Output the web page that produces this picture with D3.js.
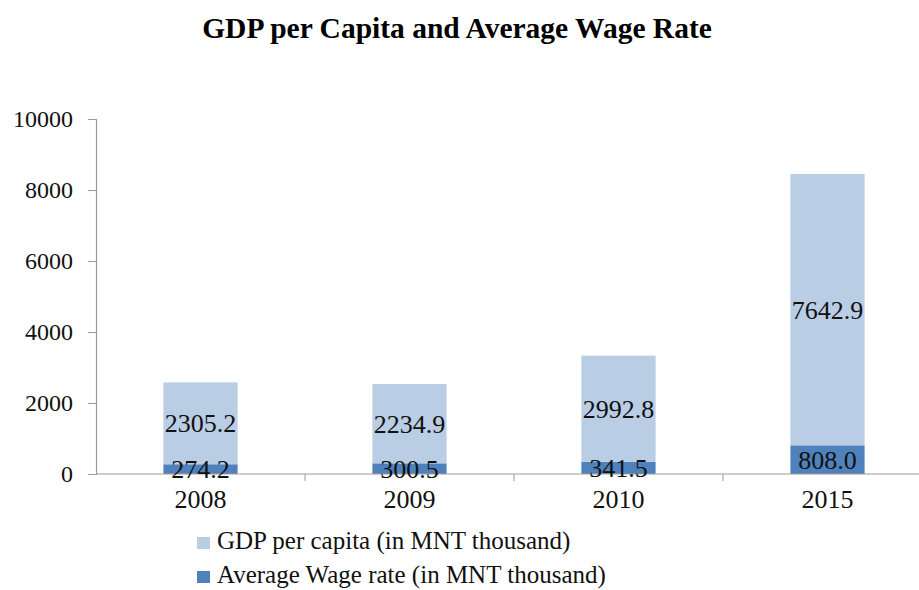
<!DOCTYPE html>
<html>
<head>
<meta charset="utf-8">
<script src="https://cdn.jsdelivr.net/npm/d3@7"></script>
</head>
<body>
<svg id="chart" width="919" height="590" font-family="Liberation Serif"></svg>
<script>
// Data (MNT thousand)
const years = ["2008", "2009", "2010", "2015"];
const wageRate = [274.2, 300.5, 341.5, 808.0];
const gdpPerCapita = [2305.2, 2234.9, 2992.8, 7642.9];
const yTicks = [0, 2000, 4000, 6000, 8000, 10000];
const seriesNames = ["GDP per capita (in MNT thousand)", "Average Wage rate (in MNT thousand)"];
const seriesColors = ["#b9cde5", "#4f81bd"];

const FONT = "'Liberation Serif'";
d3.select("body").style("margin", "0");
const svg = d3.select("#chart").style("display", "block");
const axisColor = "#a39797";

const x = d3.scaleBand().domain(years).range([96, 932]).padding(0);
const y = d3.scaleLinear().domain([0, 10000]).range([474, 119]);
const barW = x.bandwidth() * 0.355;

// Title
svg.append("text")
  .attr("x", 457).attr("y", 38)
  .attr("text-anchor", "middle")
  .style("font-family", FONT)
  .style("font-size", "29.5px").style("font-weight", "bold")
  .text("GDP per Capita and Average Wage Rate");

// Stacked data: wage at the bottom, GDP on top
const rows = years.map((yr, i) => ({ year: yr, wage: wageRate[i], gdp: gdpPerCapita[i] }));
const stack = d3.stack().keys(["wage", "gdp"])(rows);
const colorOf = { wage: seriesColors[1], gdp: seriesColors[0] };

const layers = svg.append("g").selectAll("g").data(stack).join("g")
  .attr("fill", d => colorOf[d.key]);

layers.selectAll("rect").data(d => d).join("rect")
  .attr("x", d => x(d.data.year) + (x.bandwidth() - barW) / 2)
  .attr("width", barW)
  .attr("y", d => y(d[1]))
  .attr("height", d => y(d[0]) - y(d[1]));

// Y axis
const yAxis = svg.append("g")
  .attr("transform", "translate(96,0)")
  .call(d3.axisLeft(y).tickValues(yTicks).tickSize(8).tickPadding(15).tickFormat(d3.format("d")));
yAxis.attr("font-family", "Liberation Serif").attr("font-size", 24);
yAxis.select(".domain").attr("stroke", axisColor).attr("stroke-width", 1.2);
yAxis.selectAll(".tick line").attr("stroke", axisColor);
yAxis.selectAll(".tick text")
  .style("font-family", FONT).style("font-size", "24px").attr("fill", "#111");

// X axis line with tick marks between categories
const xAxisG = svg.append("g").attr("transform", "translate(0,474)");
xAxisG.append("line")
  .attr("x1", 96).attr("x2", 919)
  .attr("stroke", axisColor).attr("stroke-width", 1.2);
xAxisG.selectAll("line.sep").data(years.slice(1)).join("line")
  .attr("class", "sep")
  .attr("x1", d => x(d)).attr("x2", d => x(d))
  .attr("y1", 0).attr("y2", 7)
  .attr("stroke", axisColor);
xAxisG.selectAll("text").data(years).join("text")
  .attr("x", d => x(d) + x.bandwidth() / 2)
  .attr("y", 34)
  .attr("text-anchor", "middle")
  .attr("fill", "#111")
  .style("font-family", FONT).style("font-size", "26px")
  .text(d => d);

// Value labels centred in each segment
const labelG = svg.append("g");
stack.forEach(layer => {
  layer.forEach(d => {
    labelG.append("text")
      .attr("x", x(d.data.year) + x.bandwidth() / 2)
      .attr("y", y((d[0] + d[1]) / 2))
      .attr("dy", "0.35em")
      .attr("text-anchor", "middle")
      .attr("fill", "#111")
      .style("font-family", FONT).style("font-size", "26px")
      .text(d.data[layer.key].toFixed(1));
  });
});

// Legend
const legend = svg.append("g").attr("transform", "translate(197,0)");
seriesNames.forEach((name, i) => {
  const gy = 537 + i * 34;
  legend.append("rect")
    .attr("x", 0).attr("y", gy).attr("width", 13).attr("height", 12)
    .attr("fill", seriesColors[i]);
  legend.append("text")
    .attr("x", 20).attr("y", gy + 12)
    .attr("fill", "#111")
    .style("font-family", FONT).style("font-size", "25px")
    .text(name);
});
</script>
</body>
</html>
